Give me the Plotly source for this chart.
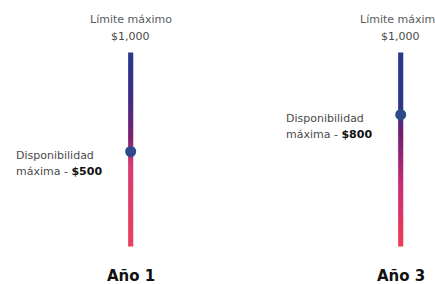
import plotly.graph_objects as go

# ---- data ----
categories = ["Año 1", "Año 3"]
limit_value = 1000
limit_label = "$1,000"
available_amounts = [500, 800]          # amounts printed in the labels
available_levels = [490, 680]           # dot positions

# ---- styles ----
bar_half_width = 0.0095
gradients = [
    [[0.0, "#e8425f"], [0.42, "#d83a72"], [0.56, "#7b2171"], [0.78, "#3b2c86"], [1.0, "#28398b"]],
    [[0.0, "#f03c4e"], [0.32, "#c82b78"], [0.60, "#6b1f6f"], [0.70, "#2f3586"], [1.0, "#28398b"]],
]
dot_color = "#2e4a88"
FONT = "DejaVu Sans"
SMALL = 11

fig = go.Figure()

for i, cat in enumerate(categories):
    x0, x1 = i - bar_half_width, i + bar_half_width
    fig.add_trace(go.Scatter(
        x=[x0, x1, x1, x0, x0],
        y=[0, 0, limit_value, limit_value, 0],
        mode="lines", line=dict(width=0),
        fill="toself",
        fillgradient=dict(type="vertical", colorscale=gradients[i],
                          start=0, stop=limit_value),
        hoverinfo="skip", showlegend=False,
    ))
    fig.add_trace(go.Scatter(
        x=[i], y=[available_levels[i]], mode="markers",
        marker=dict(size=11, color=dot_color, line=dict(width=0)),
        showlegend=False, hoverinfo="skip",
    ))
    # top labels
    fig.add_annotation(x=i, y=limit_value, yshift=33, text="Límite máximo",
                       showarrow=False, xanchor="center", yanchor="middle",
                       font=dict(family=FONT, size=SMALL, color="#5a5a5a"))
    fig.add_annotation(x=i, y=limit_value, yshift=16, text=limit_label,
                       showarrow=False, xanchor="center", yanchor="middle",
                       font=dict(family=FONT, size=SMALL, color="#4a4a4a"))
    # availability labels
    fig.add_annotation(x=i, y=available_levels[i], xshift=-117, yshift=-4,
                       text="Disponibilidad", showarrow=False,
                       xanchor="left", yanchor="middle",
                       font=dict(family=FONT, size=SMALL, color="#4a4a4a"))
    fig.add_annotation(x=i, y=available_levels[i], xshift=-117, yshift=-20,
                       text=f"máxima - <b style='color:#111'>${available_amounts[i]}</b>",
                       showarrow=False, xanchor="left", yanchor="middle",
                       font=dict(family=FONT, size=SMALL, color="#4a4a4a"))
    # category label
    fig.add_annotation(x=i, y=0, yshift=-29, text=f"<b>{cat}</b>",
                       showarrow=False, xanchor="center", yanchor="middle",
                       font=dict(family=FONT, size=15, color="#111111"))

fig.update_layout(
    width=435, height=284,
    margin=dict(l=0, r=0, t=0, b=0),
    paper_bgcolor="white", plot_bgcolor="white",
    xaxis=dict(range=[-0.484, 1.127], visible=False, fixedrange=True),
    yaxis=dict(range=[-193, 1271], visible=False, fixedrange=True),
)

fig.write_html("out.html", config={"displayModeBar": False},
               post_script="document.body.style.margin='0';document.body.style.overflow='hidden';")
